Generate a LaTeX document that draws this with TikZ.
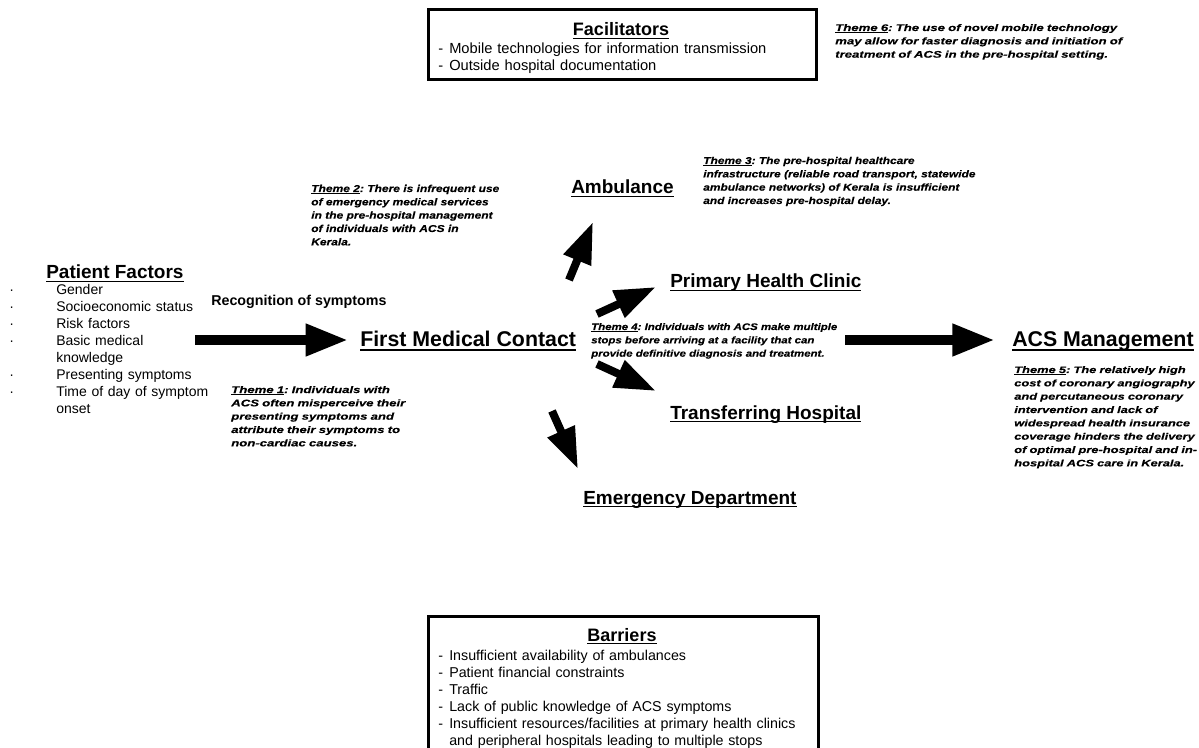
\documentclass[tikz,border=0pt]{standalone}
\usepackage{fontspec}
\setmainfont{Liberation Sans}
\newfontfamily\themefont{Liberation Sans}[FakeStretch=1.37,FakeBold=0.3]
\newfontfamily\themefontb{Liberation Sans}[FakeStretch=1.2,FakeBold=0.3]
\usetikzlibrary{arrows.meta}

\tikzset{
  head/.style={anchor=base west,inner sep=0.75pt,font=\fontsize{14.25}{17}\selectfont\bfseries},
  bighead/.style={head,font=\fontsize{16}{19}\selectfont\bfseries},
  theme/.style={anchor=base west,inner sep=0.75pt,align=left,text width=320pt,font=\themefont\fontsize{#1}{10}\selectfont\bfseries\itshape\frenchspacing},
  theme/.default=7.1,
  themeb/.style={theme,font=\themefontb\fontsize{#1}{10}\selectfont\bfseries\itshape\frenchspacing},
  boxtitle/.style={anchor=base,inner sep=0.75pt,font=\fontsize{13.5}{16}\selectfont\bfseries},
  itemlist/.style={anchor=base west,inner sep=0.75pt,align=left,text width=320pt,font=\fontsize{11}{12.75}\selectfont},
  framebox/.style={draw,line width=2.25pt},
  bigarrow/.style={line width=7.5pt,-{Triangle[length=32pt,width=22.5pt]}},
  smallarrow/.style={line width=6pt,-{Triangle[length=31pt,width=21pt]}},
}
\newcommand{\undl}[1]{\setbox0\hbox{#1}\rlap{\rule[-0.17em]{\wd0}{0.065em}}\box0}
\newcommand{\dashitem}[1]{\makebox[8.25pt][l]{-}#1}
\newcommand{\pfitem}[1]{\makebox[35.25pt][l]{\textperiodcentered}#1}

\begin{document}
\begin{tikzpicture}[x=0.75pt,y=0.75pt,yscale=-1,xscale=1]
\useasboundingbox (0,0) rectangle (1199,748);
\clip (0,0) rectangle (1199,748);

%Shape: Rectangle [facilitators]
\draw [framebox] (428,10) rectangle (816,80);
%Shape: Rectangle [barriers]
\draw [framebox] (428,616) rectangle (818,770);

% Text Node
\draw (621,36) node [boxtitle] (fac) {\undl{Facilitators}};
% Text Node
\draw (437,54) node [itemlist] (facitems) {\dashitem{Mobile technologies for information transmission}\\\dashitem{Outside hospital documentation}};
% Text Node
\draw (834,31) node [theme=7.2] (theme6) {\undl{Theme 6}: The use of novel mobile technology\\may allow for faster diagnosis and initiation of\\treatment of ACS in the pre-hospital setting.};

% Text Node
\draw (702,164) node [themeb=7.45] (theme3) {\undl{Theme 3}: The pre-hospital healthcare\\infrastructure (reliable road transport, statewide\\ambulance networks) of Kerala is insufficient\\and increases pre-hospital delay.};
% Text Node
\draw (570,194) node [head] (amb) {\undl{Ambulance}};
% Text Node
\draw (310,192) node [themeb=7.5] (theme2) {\undl{Theme 2}: There is infrequent use\\of emergency medical services\\in the pre-hospital management\\of individuals with ACS in\\Kerala.};

% Text Node
\draw (45,279) node [head] (pf) {\undl{Patient Factors}};
% Text Node
\draw (8,295) node [itemlist,font=\fontsize{10.5}{12.75}\selectfont] (pfitems) {\pfitem{Gender}\\\pfitem{Socioeconomic status}\\\pfitem{Risk factors}\\\pfitem{Basic medical}\\\hspace*{35.25pt}knowledge\\\pfitem{Presenting symptoms}\\\pfitem{Time of day of symptom}\\\hspace*{35.25pt}onset};
% Text Node
\draw (210,306) node [head,font=\fontsize{10.7}{13}\selectfont\bfseries] (recog) {Recognition of symptoms};
% Text Node
\draw (359,347) node [bighead] (fmc) {\undl{First Medical Contact}};
% Text Node
\draw (669,288) node [head] (phc) {\undl{Primary Health Clinic}};
% Text Node
\draw (590,330) node [themeb=7.15] (theme4) {\undl{Theme 4}: Individuals with ACS make multiple\\stops before arriving at a facility that can\\provide definitive diagnosis and treatment.};
% Text Node
\draw (1011,347) node [bighead] (acs) {\undl{ACS Management}};
% Text Node
\draw (1013,373) node [theme=7.05] (theme5) {\undl{Theme 5}: The relatively high\\cost of coronary angiography\\and percutaneous coronary\\intervention and lack of\\widespread health insurance\\coverage hinders the delivery\\of optimal pre-hospital and in-\\hospital ACS care in Kerala.};
% Text Node
\draw (669,419) node [head] (th) {\undl{Transferring Hospital}};
% Text Node
\draw (230,393) node [theme=7.2] (theme1) {\undl{Theme 1}: Individuals with\\ACS often misperceive their\\presenting symptoms and\\attribute their symptoms to\\non-cardiac causes.};
% Text Node
\draw (582,504) node [head] (ed) {\undl{Emergency Department}};

% Text Node
\draw (622,641) node [boxtitle] (barr) {\undl{Barriers}};
% Text Node
\draw (437,660) node [itemlist,font=\fontsize{10.7}{12.75}\selectfont] (barritems) {\dashitem{Insufficient availability of ambulances}\\\dashitem{Patient financial constraints}\\\dashitem{Traffic}\\\dashitem{Lack of public knowledge of ACS symptoms}\\\dashitem{Insufficient resources/facilities at primary health clinics}\\\hspace*{8.25pt}and peripheral hospitals leading to multiple stops};

% Arrow ends
\coordinate (pfout) at (195,340);
\coordinate (t4out) at (845,340);
\coordinate (ambfrom) at (569,280);
\coordinate (ambto) at (593,222);
\coordinate (phcfrom) at (597,314);
\coordinate (phcto) at (656,287);
\coordinate (thfrom) at (597,364);
\coordinate (thto) at (656,391);
\coordinate (edfrom) at (552,411);
\coordinate (edto) at (578,469);

%Straight Lines
\draw [bigarrow,shorten >=8pt] (pfout) -- (pfout -| fmc.west);
%Straight Lines
\draw [bigarrow,shorten >=12pt] (t4out) -- (t4out -| acs.west);
%Straight Lines
\draw [smallarrow] (ambfrom) -- (ambto);
%Straight Lines
\draw [smallarrow] (phcfrom) -- (phcto);
%Straight Lines
\draw [smallarrow] (thfrom) -- (thto);
%Straight Lines
\draw [smallarrow] (edfrom) -- (edto);

\end{tikzpicture}
\end{document}
